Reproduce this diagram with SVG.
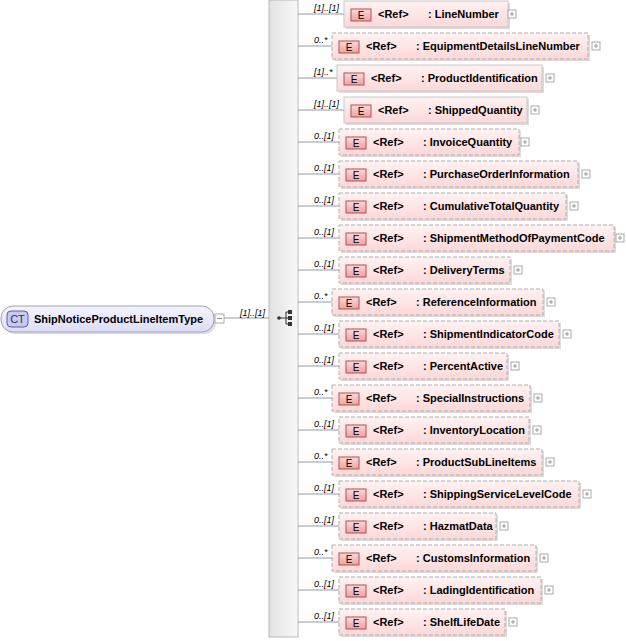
<svg xmlns="http://www.w3.org/2000/svg" width="626" height="641" viewBox="0 0 626 641">
<defs>
<linearGradient id="seq" x1="0" x2="1"><stop offset="0" stop-color="#e2e2e2"/><stop offset="1" stop-color="#f8f8f8"/></linearGradient>
<linearGradient id="el" x1="0" y1="0" x2="0" y2="1"><stop offset="0" stop-color="#fff2f2"/><stop offset="1" stop-color="#fcd8d8"/></linearGradient>
<linearGradient id="ct" x1="0" y1="0" x2="0" y2="1"><stop offset="0" stop-color="#f4f4ff"/><stop offset="1" stop-color="#dcdcf8"/></linearGradient>
<linearGradient id="eicon" x1="0" y1="0" x2="0" y2="1"><stop offset="0" stop-color="#fbdada"/><stop offset="1" stop-color="#f0a0a0"/></linearGradient>
<g id="ic"><rect x="0" y="-6" width="20" height="12" fill="url(#eicon)" stroke="#b05050"/><text x="10" y="4" font-size="10" text-anchor="middle" fill="#000" font-family="Liberation Sans,sans-serif">E</text></g>
</defs>
<style>
text{font-family:"Liberation Sans",Arial,sans-serif}
.n{font-size:11px;font-weight:bold;fill:#000}
.m{font-size:9px;font-style:italic;fill:#000}
.box{fill:url(#el);stroke:#c8c8c8}
.opt{stroke-dasharray:4,2;stroke:#b0b0b0}
.sh{fill:#dcdcdc}
.pl{fill:#fff;stroke:#aaa}
.ln{stroke:#999;fill:none}
</style>
<rect x="269" y="0" width="29" height="637" fill="url(#seq)" stroke="#b8b8b8"/>
<g fill="#333"><circle cx="279" cy="318" r="1.8"/><rect x="288" y="310" width="4" height="4"/><rect x="288" y="316" width="4" height="4"/><rect x="288" y="322" width="4" height="4"/><path d="M280 318H286M286 312V324M286 312H288M286 318H288M286 324H288" stroke="#333" fill="none"/></g>
<g id="connectors" class="ln">
<path d="M224 318H269"/>
<path d="M298 14H344M298 46H332M298 78H337M298 110H344M298 142H339M298 174H339M298 206H339M298 238H339M298 270H339M298 302H332M298 334H339M298 366H339M298 398H332M298 430H339M298 462H332M298 494H339M298 526H339M298 558H332M298 590H339M298 622H339"/>
</g>
<g id="root">
<rect x="3" y="308" width="213" height="26" rx="12" fill="#ddd"/>
<rect x="1" y="306" width="213" height="26" rx="12" fill="url(#ct)" stroke="#a0a0b8"/>
<rect x="7" y="311" width="21" height="16" rx="4" fill="#c8c8f4" stroke="#606090"/>
<text x="17.5" y="323" font-size="11" text-anchor="middle" fill="#303060" font-family="Liberation Sans">CT</text>
<text x="34" y="323" class="n">ShipNoticeProductLineItemType</text>
<rect x="215" y="314" width="9" height="9" class="pl"/><path d="M217 318.5H222" stroke="#888"/>
<text x="240" y="316" class="m">[1]..[1]</text>
</g>
<g id="e0"><text x="314" y="11" class="m">[1]..[1]</text><rect x="346" y="3" width="164" height="26" class="sh"/><rect x="344" y="1" width="164" height="26" class="box"/><use href="#ic" x="351" y="15"/><text x="378" y="18" class="n">&lt;Ref&gt;</text><text x="428" y="18" class="n">: LineNumber</text><rect x="508" y="10" width="8" height="8" class="pl"/></g>
<g id="e1"><text x="314" y="43" class="m">0..*</text><rect x="334" y="35" width="256" height="26" class="sh"/><rect x="332" y="33" width="256" height="26" class="box opt"/><use href="#ic" x="339" y="47"/><text x="366" y="50" class="n">&lt;Ref&gt;</text><text x="416" y="50" class="n">: EquipmentDetailsLineNumber</text><rect x="592" y="42" width="8" height="8" class="pl"/></g>
<g id="e2"><text x="314" y="75" class="m">[1]..*</text><rect x="339" y="67" width="205" height="26" class="sh"/><rect x="337" y="65" width="205" height="26" class="box"/><use href="#ic" x="344" y="79"/><text x="371" y="82" class="n">&lt;Ref&gt;</text><text x="421" y="82" class="n">: ProductIdentification</text><rect x="546" y="74" width="8" height="8" class="pl"/></g>
<g id="e3"><text x="314" y="107" class="m">[1]..[1]</text><rect x="346" y="99" width="183" height="26" class="sh"/><rect x="344" y="97" width="183" height="26" class="box"/><use href="#ic" x="351" y="111"/><text x="378" y="114" class="n">&lt;Ref&gt;</text><text x="428" y="114" class="n">: ShippedQuantity</text><rect x="531" y="106" width="8" height="8" class="pl"/></g>
<g id="e4"><text x="314" y="139" class="m">0..[1]</text><rect x="341" y="131" width="180" height="26" class="sh"/><rect x="339" y="129" width="180" height="26" class="box opt"/><use href="#ic" x="346" y="143"/><text x="373" y="146" class="n">&lt;Ref&gt;</text><text x="423" y="146" class="n">: InvoiceQuantity</text><rect x="521" y="138" width="8" height="8" class="pl"/></g>
<g id="e5"><text x="314" y="171" class="m">0..[1]</text><rect x="341" y="163" width="239" height="26" class="sh"/><rect x="339" y="161" width="239" height="26" class="box opt"/><use href="#ic" x="346" y="175"/><text x="373" y="178" class="n">&lt;Ref&gt;</text><text x="423" y="178" class="n">: PurchaseOrderInformation</text><rect x="582" y="170" width="8" height="8" class="pl"/></g>
<g id="e6"><text x="314" y="203" class="m">0..[1]</text><rect x="341" y="195" width="227" height="26" class="sh"/><rect x="339" y="193" width="227" height="26" class="box opt"/><use href="#ic" x="346" y="207"/><text x="373" y="210" class="n">&lt;Ref&gt;</text><text x="423" y="210" class="n">: CumulativeTotalQuantity</text><rect x="570" y="202" width="8" height="8" class="pl"/></g>
<g id="e7"><text x="314" y="235" class="m">0..[1]</text><rect x="341" y="227" width="275" height="26" class="sh"/><rect x="339" y="225" width="275" height="26" class="box opt"/><use href="#ic" x="346" y="239"/><text x="373" y="242" class="n">&lt;Ref&gt;</text><text x="423" y="242" class="n">: ShipmentMethodOfPaymentCode</text><rect x="616" y="234" width="8" height="8" class="pl"/></g>
<g id="e8"><text x="314" y="267" class="m">0..[1]</text><rect x="341" y="259" width="171" height="26" class="sh"/><rect x="339" y="257" width="171" height="26" class="box opt"/><use href="#ic" x="346" y="271"/><text x="373" y="274" class="n">&lt;Ref&gt;</text><text x="423" y="274" class="n">: DeliveryTerms</text><rect x="514" y="266" width="8" height="8" class="pl"/></g>
<g id="e9"><text x="314" y="299" class="m">0..*</text><rect x="334" y="291" width="211" height="26" class="sh"/><rect x="332" y="289" width="211" height="26" class="box opt"/><use href="#ic" x="339" y="303"/><text x="366" y="306" class="n">&lt;Ref&gt;</text><text x="416" y="306" class="n">: ReferenceInformation</text><rect x="547" y="298" width="8" height="8" class="pl"/></g>
<g id="e10"><text x="314" y="331" class="m">0..[1]</text><rect x="341" y="323" width="220" height="26" class="sh"/><rect x="339" y="321" width="220" height="26" class="box opt"/><use href="#ic" x="346" y="335"/><text x="373" y="338" class="n">&lt;Ref&gt;</text><text x="423" y="338" class="n">: ShipmentIndicatorCode</text><rect x="563" y="330" width="8" height="8" class="pl"/></g>
<g id="e11"><text x="314" y="363" class="m">0..[1]</text><rect x="341" y="355" width="168" height="26" class="sh"/><rect x="339" y="353" width="168" height="26" class="box opt"/><use href="#ic" x="346" y="367"/><text x="373" y="370" class="n">&lt;Ref&gt;</text><text x="423" y="370" class="n">: PercentActive</text><rect x="511" y="362" width="8" height="8" class="pl"/></g>
<g id="e12"><text x="314" y="395" class="m">0..*</text><rect x="334" y="387" width="198" height="26" class="sh"/><rect x="332" y="385" width="198" height="26" class="box opt"/><use href="#ic" x="339" y="399"/><text x="366" y="402" class="n">&lt;Ref&gt;</text><text x="416" y="402" class="n">: SpecialInstructions</text><rect x="534" y="394" width="8" height="8" class="pl"/></g>
<g id="e13"><text x="314" y="427" class="m">0..[1]</text><rect x="341" y="419" width="190" height="26" class="sh"/><rect x="339" y="417" width="190" height="26" class="box opt"/><use href="#ic" x="346" y="431"/><text x="373" y="434" class="n">&lt;Ref&gt;</text><text x="423" y="434" class="n">: InventoryLocation</text><rect x="533" y="426" width="8" height="8" class="pl"/></g>
<g id="e14"><text x="314" y="459" class="m">0..*</text><rect x="334" y="451" width="210" height="26" class="sh"/><rect x="332" y="449" width="210" height="26" class="box opt"/><use href="#ic" x="339" y="463"/><text x="366" y="466" class="n">&lt;Ref&gt;</text><text x="416" y="466" class="n">: ProductSubLineItems</text><rect x="546" y="458" width="8" height="8" class="pl"/></g>
<g id="e15"><text x="314" y="491" class="m">0..[1]</text><rect x="341" y="483" width="240" height="26" class="sh"/><rect x="339" y="481" width="240" height="26" class="box opt"/><use href="#ic" x="346" y="495"/><text x="373" y="498" class="n">&lt;Ref&gt;</text><text x="423" y="498" class="n">: ShippingServiceLevelCode</text><rect x="583" y="490" width="8" height="8" class="pl"/></g>
<g id="e16"><text x="314" y="523" class="m">0..[1]</text><rect x="341" y="515" width="157" height="26" class="sh"/><rect x="339" y="513" width="157" height="26" class="box opt"/><use href="#ic" x="346" y="527"/><text x="373" y="530" class="n">&lt;Ref&gt;</text><text x="423" y="530" class="n">: HazmatData</text><rect x="500" y="522" width="8" height="8" class="pl"/></g>
<g id="e17"><text x="314" y="555" class="m">0..*</text><rect x="334" y="547" width="204" height="26" class="sh"/><rect x="332" y="545" width="204" height="26" class="box opt"/><use href="#ic" x="339" y="559"/><text x="366" y="562" class="n">&lt;Ref&gt;</text><text x="416" y="562" class="n">: CustomsInformation</text><rect x="540" y="554" width="8" height="8" class="pl"/></g>
<g id="e18"><text x="314" y="587" class="m">0..[1]</text><rect x="341" y="579" width="202" height="26" class="sh"/><rect x="339" y="577" width="202" height="26" class="box opt"/><use href="#ic" x="346" y="591"/><text x="373" y="594" class="n">&lt;Ref&gt;</text><text x="423" y="594" class="n">: LadingIdentification</text><rect x="545" y="586" width="8" height="8" class="pl"/></g>
<g id="e19"><text x="314" y="619" class="m">0..[1]</text><rect x="341" y="611" width="166" height="26" class="sh"/><rect x="339" y="609" width="166" height="26" class="box opt"/><use href="#ic" x="346" y="623"/><text x="373" y="626" class="n">&lt;Ref&gt;</text><text x="423" y="626" class="n">: ShelfLifeDate</text><rect x="509" y="618" width="8" height="8" class="pl"/></g>
<g stroke="#999"><path d="M510 14H514M512 12V16M594 46H598M596 44V48M548 78H552M550 76V80M533 110H537M535 108V112M523 142H527M525 140V144M584 174H588M586 172V176M572 206H576M574 204V208M618 238H622M620 236V240M516 270H520M518 268V272M549 302H553M551 300V304M565 334H569M567 332V336M513 366H517M515 364V368M536 398H540M538 396V400M535 430H539M537 428V432M548 462H552M550 460V464M585 494H589M587 492V496M502 526H506M504 524V528M542 558H546M544 556V560M547 590H551M549 588V592M511 622H515M513 620V624"/></g>
</svg>
